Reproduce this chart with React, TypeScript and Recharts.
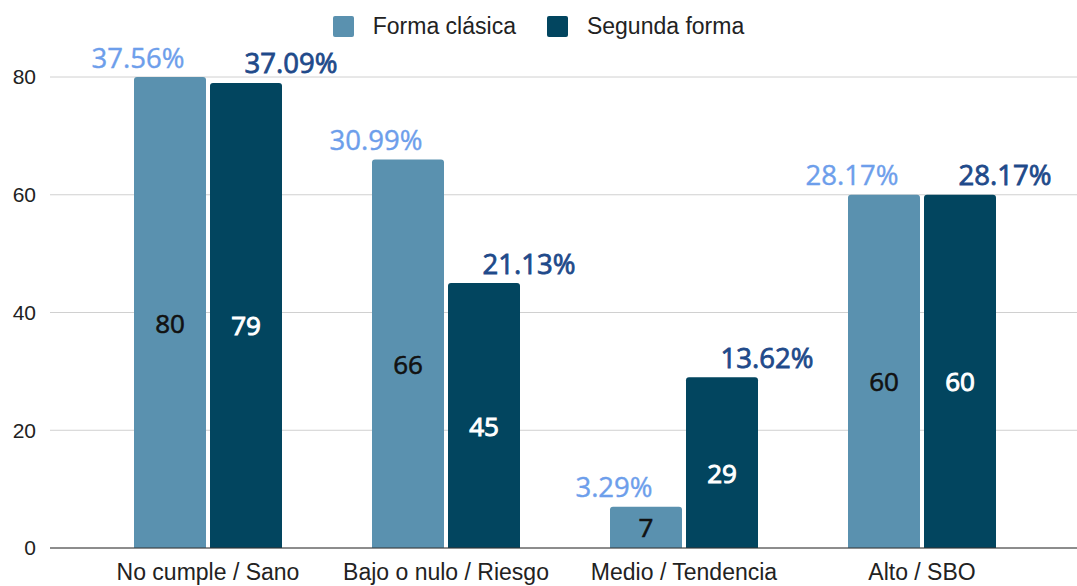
import React from 'react';
import { BarChart, Bar, XAxis, YAxis, CartesianGrid, Legend, LabelList } from 'recharts';

const categories = ['No cumple / Sano', 'Bajo o nulo / Riesgo', 'Medio / Tendencia', 'Alto / SBO'];
const formaClasica = [80, 66, 7, 60];
const segundaForma = [79, 45, 29, 60];
const clasicaPct = ['37.56%', '30.99%', '3.29%', '28.17%'];
const segundaPct = ['37.09%', '21.13%', '13.62%', '28.17%'];
const yTicks = [0, 20, 40, 60, 80];

const LIGHT = '#5a91af';
const DARK = '#02455f';

const data = categories.map((c, i) => ({
  name: c,
  clasica: formaClasica[i],
  segunda: segundaForma[i],
  pctA: clasicaPct[i],
  pctB: segundaPct[i],
}));

const makePctLabel = (color: string, dx: number, sw: number) => (props: any) => {
  const { x, y, width, value } = props;
  return (
    <text
      x={Number(x) + Number(width) / 2 + dx}
      y={Number(y) - 20}
      fill={color}
      stroke={color}
      strokeWidth={sw}
      fontSize={27.5}
      fontFamily="'Open Sans', sans-serif"
      textAnchor="middle"
      dominantBaseline="central"
    >
      {value}
    </text>
  );
};

const makeValueLabel = (color: string, sw: number) => (props: any) => {
  const { x, y, width, height, value } = props;
  const bottom = Number(y) + Number(height);
  const cy = Math.min(Number(y) + Number(height) / 2 + 10, bottom - 21);
  return (
    <text
      x={Number(x) + Number(width) / 2}
      y={cy}
      fill={color}
      stroke={color}
      strokeWidth={sw}
      fontSize={26}
      fontFamily="'Open Sans', sans-serif"
      textAnchor="middle"
      dominantBaseline="central"
    >
      {value}
    </text>
  );
};

const LegendContent = () => (
  <div style={{ display: 'flex', justifyContent: 'center', alignItems: 'center', height: 26, fontFamily: "'Liberation Sans', Arial, sans-serif", fontSize: 23, color: '#222' }}>
    <span style={{ display: 'inline-block', width: 21, height: 21, background: LIGHT, borderRadius: 2, marginRight: 19 }} />
    <span style={{ marginRight: 31 }}>Forma clásica</span>
    <span style={{ display: 'inline-block', width: 21, height: 21, background: DARK, borderRadius: 2, marginRight: 19 }} />
    <span>Segunda forma</span>
  </div>
);

export default function App() {
  return (
    <div style={{ position: 'absolute', left: 0, top: 0, background: '#fff' }}>
      <BarChart
        width={1077}
        height={586}
        data={data}
        margin={{ top: 51, right: 0, bottom: 0, left: 0 }}
        barSize={72}
        barGap={4}
      >
        <CartesianGrid horizontal vertical={false} stroke="#d0d0d0" />
        <Legend
          verticalAlign="top"
          align="center"
          height={26}
          content={<LegendContent />}
          wrapperStyle={{ top: 13, left: 0, width: 1077 }}
        />
        <XAxis
          dataKey="name"
          padding={{ left: 39, right: 36 }}
          tickLine={false}
          axisLine={{ stroke: '#333' }}
          tickSize={0}
          tickMargin={16}
          height={38}
          interval={0}
          tick={{ fill: '#222', fontSize: 23, fontFamily: "'Liberation Sans', Arial, sans-serif" }}
        />
        <YAxis
          domain={[0, 80]}
          ticks={yTicks}
          width={50}
          tickLine={false}
          axisLine={false}
          tickSize={0}
          tickMargin={14}
          tick={{ fill: '#222', fontSize: 21, fontFamily: "'Liberation Sans', Arial, sans-serif" }}
        />
        <Bar dataKey="clasica" fill={LIGHT} radius={[3, 3, 0, 0]} isAnimationActive={false}>
          <LabelList dataKey="pctA" content={makePctLabel('#6d9eeb', -32, 0.4)} />
          <LabelList dataKey="clasica" content={makeValueLabel('#111', 0.6)} />
        </Bar>
        <Bar dataKey="segunda" fill={DARK} radius={[3, 3, 0, 0]} isAnimationActive={false}>
          <LabelList dataKey="pctB" content={makePctLabel('#1f4a8a', 45, 0.8)} />
          <LabelList dataKey="segunda" content={makeValueLabel('#fff', 1)} />
        </Bar>
      </BarChart>
    </div>
  );
}
